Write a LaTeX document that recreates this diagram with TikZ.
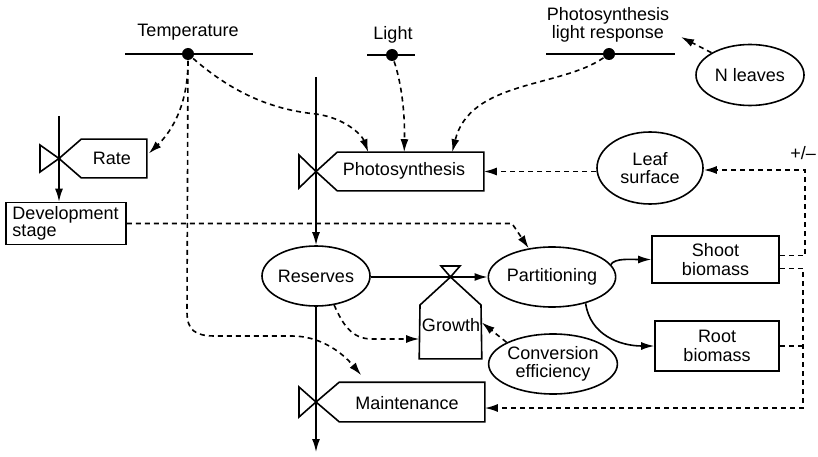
\documentclass[tikz,border=0pt]{standalone}
\usepackage{fontspec}
\setmainfont{Liberation Sans}
\usetikzlibrary{arrows.meta,shapes.geometric,calc}
\begin{document}
\begin{tikzpicture}[x=1pt,y=-1pt,
  line width=1.6pt,
  every node/.style={font=\fontsize{18}{18.5}\selectfont},
  arr/.style={-{Latex[length=13pt,width=8pt]}},
  dsh/.style={dash pattern=on 5pt off 4pt},
  ell/.style={draw,ellipse,inner sep=0pt,align=center},
  box/.style={draw,rectangle,inner sep=0pt,align=center},
  plain/.style={rectangle,inner sep=0pt},
  dotn/.style={circle,fill,inner sep=0pt,minimum size=12pt},
]
\useasboundingbox (0,0) rectangle (818,457);

% --- driving variables ---
\draw (125,54) -- (253,54);
\node[dotn] (tdot) at (188,54) {};
\node (temp) at (188,32) {Temperature};

\draw (367,55) -- (415,55);
\node[dotn] (ldot) at (392,55) {};
\node (light) at (393,35) {Light};

\draw (546,54) -- (675,54);
\node[dotn] (pdot) at (609,54) {};
\node[align=center,font=\fontsize{18}{16.5}\selectfont] (plr) at (608,25) {Photosynthesis\\light response};
\coordinate (plrtip) at (681,37);

% --- state variables and boxes ---
\node[ell,minimum width=108,minimum height=61] (nl) at (750,75) {N leaves};
\node[ell,minimum width=106,minimum height=72] (ls) at (650,168) {Leaf\\surface};
\node[box,minimum width=120,minimum height=42,text width=107,align=left,font=\fontsize{18}{16.5}\selectfont] (dev) at (66,223.5) {Development\\stage};
\node[ell,minimum width=108,minimum height=60] (res) at (316,276) {Reserves};
\node[ell,minimum width=110,minimum height=60] (part) at (552,277) {Partitioning};
\node[box,minimum width=127,minimum height=47] (sb) at (715.5,259.5) {Shoot\\biomass};
\node[box,minimum width=124,minimum height=50] (rb) at (717,346) {Root\\biomass};
\node[ell,minimum width=109,minimum height=60] (ce) at (553,364) {Conversion\\efficiency};

% --- valves ---
% Rate
\node[plain,minimum width=64,minimum height=37] (rateb) at (114,158.5) {};
\draw (40,145) -- (40,172) -- (59,158.5) -- cycle;
\draw (59,158.5) -- (rateb.north west) -- (rateb.north east) -- (rateb.south east) -- (rateb.south west) -- cycle;
\node (rate) at (112,158.5) {Rate};

% Photosynthesis
\node[plain,minimum width=145,minimum height=37] (ps) at (410.5,171.5) {};
\draw (299,155) -- (299,188) -- (316,171.5) -- cycle;
\draw (316,171.5) -- (ps.north west) -- (ps.north east) -- (ps.south east) -- (ps.south west) -- cycle;
\node (pstext) at (404,171) {Photosynthesis};

% Maintenance
\node[plain,minimum width=144,minimum height=38] (mt) at (412,402) {};
\draw (299,387) -- (299,417) -- (316,402) -- cycle;
\draw (316,402) -- (mt.north west) -- (mt.north east) -- (mt.south east) -- (mt.south west) -- cycle;
\node (mttext) at (407,403) {Maintenance};

% Growth
\node[plain,minimum width=61,minimum height=53] (gr) at (450.5,331.5) {};
\draw (gr.south west) -- (420,305) -- (450.5,277) -- (481,305) -- (gr.south east) -- cycle;
\draw (441,266) -- (460,266) -- (450.5,277) -- cycle;
\node (grtext) at (451,325) {Growth};

% --- material flows ---
\coordinate (ftop) at (316,77);
\coordinate (fbot) at (316,452);
\draw[arr] (ftop) -- (res.north);
\draw[arr] (res.south) -- (fbot);
\coordinate (rtop) at (59,116);
\draw[arr] (rtop) -- (rtop |- dev.north);
\draw[arr] (res.east |- part.west) -- (part.west);
\draw[arr] (part.12) .. controls (615,258) and (630,259.5) .. (sb.west);
\draw[arr] (part.-38) .. controls (590,335) and (620,346) .. (rb.west);

% --- information flows ---
\draw[arr,dsh] (tdot) .. controls (188,110) and (168,135) .. ([xshift=2pt,yshift=5pt]rateb.east);
\draw[arr,dsh] (tdot) -- (187,312) .. controls (187,330) and (195,336) .. (215,336) -- (292,336) .. controls (318,336) and (340,350) .. ($(mt.north west)+(22,-7)$);
\draw[arr,dsh] (tdot) .. controls (235,95) and (275,110) .. (316,114) .. controls (345,118) and (362,135) .. ($(ps.north west)+(31,0)$);
\draw[arr,dsh] (ldot) .. controls (402,85) and (405,115) .. ($(ps.north west)+(67,0)$);
\draw[arr,dsh] (pdot) .. controls (560,88) and (470,80) .. ($(ps.north west)+(115,0)$);
\draw[arr,dsh] (nl.150) -- (plrtip);
\draw[arr,dsh] (ls.west |- ps.east) -- (ps.east);

\coordinate (dbend) at (512,223.5);
\draw[arr,dsh] (dev.east) -- (dbend) -- (part.129);

\draw[arr,dsh] (res.-58) .. controls (343,325) and (352,339) .. (372,339) -- ([yshift=-7.5pt]gr.west);
\draw[arr,dsh] (ce.155) -- ([yshift=9pt]gr.east);

% feedback
\coordinate (fbc) at (805,170);
\coordinate (fbm) at (803,408);
\node (pm) at (803,153) {+/--};
\draw[arr,dsh] ([yshift=4pt]sb.east) -| (fbc) -- (fbc -| ls.east);
\draw[arr,dsh] ([yshift=-9pt]sb.east) -| (fbm) -- (fbm -| mt.east);
\draw[dsh] (rb.east) -- (rb.east -| fbm);
\end{tikzpicture}
\end{document}
